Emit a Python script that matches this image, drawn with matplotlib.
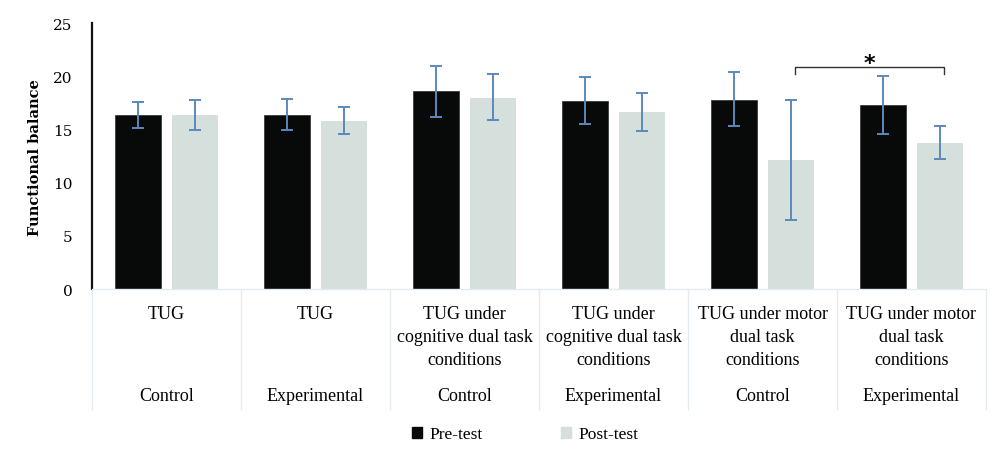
import numpy as np
import matplotlib.pyplot as plt
from matplotlib.patches import Patch

# values
tasks = ['TUG', 'TUG',
         'TUG under\ncognitive dual task\nconditions',
         'TUG under\ncognitive dual task\nconditions',
         'TUG under motor\ndual task\nconditions',
         'TUG under motor\ndual task\nconditions']
groups = ['Control', 'Experimental', 'Control', 'Experimental', 'Control', 'Experimental']

pre_mean = [16.4, 16.4, 18.6, 17.7, 17.8, 17.3]
pre_low = [15.1, 15.0, 16.2, 15.5, 15.3, 14.6]
pre_high = [17.6, 17.9, 21.0, 19.9, 20.4, 20.0]

post_mean = [16.4, 15.8, 18.0, 16.6, 12.1, 13.7]
post_low = [15.0, 14.6, 15.9, 14.9, 6.5, 12.2]
post_high = [17.8, 17.1, 20.2, 18.4, 17.8, 15.3]

legend_labels = ['Pre-test', 'Post-test']

BLACK = '#080a09'
LIGHT = '#d5dfdc'
ERR = '#5b88bd'
GRID = '#e3ebf0'
SERIF = 'Liberation Serif'

fig = plt.figure(figsize=(10, 4.56), dpi=100)
ax = fig.add_axes([0.092, 0.364, 0.894, 0.583])

x = np.arange(len(tasks))
w = 0.31
off = 0.19

pre_err = [np.array(pre_mean) - np.array(pre_low), np.array(pre_high) - np.array(pre_mean)]
post_err = [np.array(post_mean) - np.array(post_low), np.array(post_high) - np.array(post_mean)]

ax.bar(x - off, pre_mean, w, color=BLACK, edgecolor='#3a3a3a', linewidth=0.6, zorder=2)
ax.bar(x + off, post_mean, w, color=LIGHT, zorder=2)
ax.errorbar(x - off, pre_mean, yerr=pre_err, fmt='none', ecolor=ERR,
            elinewidth=1.4, capsize=4, capthick=1.4, zorder=3)
ax.errorbar(x + off, post_mean, yerr=post_err, fmt='none', ecolor=ERR,
            elinewidth=1.4, capsize=4, capthick=1.4, zorder=3)

ax.set_xlim(-0.5, len(tasks) - 0.5)
ax.set_ylim(0, 25)
ax.set_yticks([0, 5, 10, 15, 20, 25])
ax.tick_params(axis='y', length=0, pad=14, labelsize=11)
ax.tick_params(axis='x', length=0, labelbottom=False)
for lab in ax.get_yticklabels():
    lab.set_family('DejaVu Serif')
ax.set_ylabel('Functional balance', family='DejaVu Serif', fontweight='bold',
              fontsize=10.5, labelpad=8)

for s in ['top', 'right']:
    ax.spines[s].set_visible(False)
ax.spines['left'].set_color('#111111')
ax.spines['left'].set_linewidth(1.6)
ax.spines['bottom'].set_color(GRID)
ax.spines['bottom'].set_linewidth(1.0)

# category table under the axis
trans = ax.get_xaxis_transform()
for b in np.arange(-0.5, len(tasks), 1.0):
    ax.plot([b, b], [0, -0.45], transform=trans, color=GRID, lw=1.0, clip_on=False)
for i in range(len(tasks)):
    ax.text(x[i], -0.062, tasks[i], transform=trans, ha='center', va='top',
            family=SERIF, fontsize=13, linespacing=1.45)
    ax.text(x[i], -0.40, groups[i], transform=trans, ha='center', va='center',
            family=SERIF, fontsize=13)

# significance bracket
x0, x1 = x[4] + off + 0.03, x[5] + off + 0.03
ax.plot([x0, x0, x1, x1], [20.2, 20.9, 20.9, 20.2], color='#333333', lw=1.0, zorder=4)
ax.text((x0 + x1) / 2, 20.3, '*', ha='center', va='bottom', fontsize=16,
        fontweight='bold', family='DejaVu Sans')

handles = [Patch(color=BLACK), Patch(color=LIGHT)]
fig.legend(handles, legend_labels, loc='center', bbox_to_anchor=(0.525, 0.045),
           ncol=2, frameon=False, handlelength=0.6, handleheight=0.6,
           handletextpad=0.4, columnspacing=4.5,
           prop={'family': SERIF, 'size': 12.5})

fig.savefig('out.png', dpi=100)
